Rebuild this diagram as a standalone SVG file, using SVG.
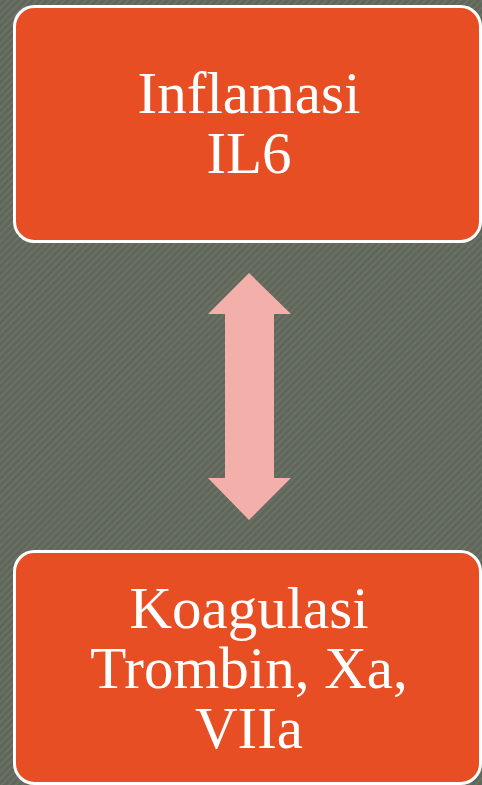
<svg xmlns="http://www.w3.org/2000/svg" width="482" height="785" viewBox="0 0 482 785">
<defs>
<pattern id="hatch" width="5" height="5" patternUnits="userSpaceOnUse" patternTransform="rotate(45)">
<rect width="5" height="5" fill="#5f675a"/>
<rect width="2" height="5" fill="#6b7265"/>
</pattern>
</defs>
<style>
.box{fill:#e84e23;stroke:#ffffff;stroke-width:3}
.t{font-family:"Liberation Serif","DejaVu Serif",serif;font-size:59px;fill:#ffffff;text-anchor:middle}
</style>
<rect width="482" height="785" fill="url(#hatch)"/>
<g id="node-inflamasi">
<rect class="box" x="14.5" y="6.5" width="466" height="235" rx="20"/>
<text class="t" x="249" y="113">Inflamasi</text>
<text class="t" x="249" y="173">IL6</text>
</g>
<g id="connectors">
<polygon points="249,273 291,314 274,314 274,478 291,478 249,520 208,478 225,478 225,314 208,314" fill="#f3b0aa"/>
</g>
<g id="node-koagulasi">
<rect class="box" x="14.5" y="551.5" width="466" height="232" rx="20"/>
<text class="t" x="249" y="628">Koagulasi</text>
<text class="t" x="249" y="688">Trombin, Xa,</text>
<text class="t" x="249" y="748">VIIa</text>
</g>
</svg>
